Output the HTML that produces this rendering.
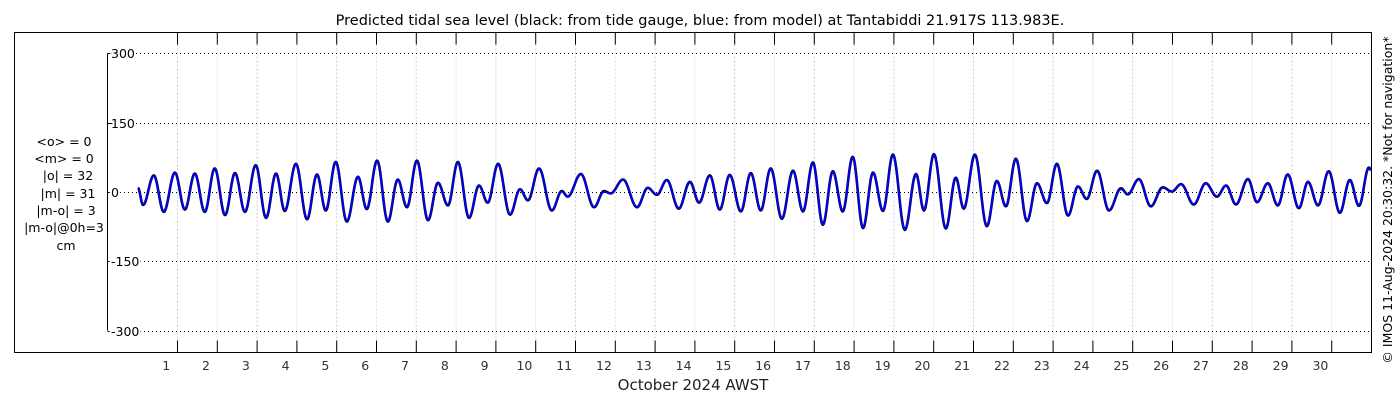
<!DOCTYPE html>
<html><head><meta charset="utf-8"><style>
body{margin:0;background:#fff;}
svg{display:block;font-family:"DejaVu Sans","Liberation Sans",sans-serif;}
</style></head><body>
<svg id="chart" width="1400" height="400" viewBox="0 0 1400 400">
<rect x="0" y="0" width="1400" height="400" fill="#fff"/>
<text x="700" y="25" text-anchor="middle" font-size="14.5" fill="#000">Predicted tidal sea level (black: from tide gauge, blue: from model) at Tantabiddi 21.917S 113.983E.</text>
<g id="grid"></g>
<g id="series"></g>
<g id="axes"></g>
<rect x="14.5" y="32.5" width="1357" height="320" fill="none" stroke="#000" stroke-width="1"/>
<g font-size="12.5" text-anchor="middle" fill="#000">
<text x="64" y="146">&lt;o&gt; = 0</text>
<text x="64" y="163">&lt;m&gt; = 0</text>
<text x="68" y="180">|o| = 32</text>
<text x="68" y="198">|m| = 31</text>
<text x="66" y="215">|m-o| = 3</text>
<text x="64" y="232">|m-o|@0h=3</text>
<text x="66" y="250">cm</text>
</g>
<text x="693" y="390" text-anchor="middle" font-size="15" fill="#222">October 2024 AWST</text>
<text transform="translate(1392,200) rotate(-90)" text-anchor="middle" font-size="12.5" fill="#000">© IMOS 11-Aug-2024 20:30:32. *Not for navigation*</text>
</svg>
<script>
const yTicks=[300,150,0,-150,-300];
const dayLabels=[1,2,3,4,5,6,7,8,9,10,11,12,13,14,15,16,17,18,19,20,21,22,23,24,25,26,27,28,29,30];
const extTimes=[0.00,0.13,0.40,0.65,0.93,1.18,1.43,1.68,1.93,2.19,2.44,2.69,2.96,3.22,3.47,3.69,3.97,4.25,4.50,4.72,4.97,5.25,5.53,5.75,6.01,6.28,6.53,6.76,7.01,7.29,7.54,7.79,8.04,8.32,8.57,8.79,9.05,9.35,9.60,9.80,10.08,10.40,10.65,10.80,11.13,11.46,11.71,11.88,12.19,12.54,12.81,13.04,13.29,13.59,13.87,14.10,14.37,14.62,14.87,15.15,15.40,15.65,15.90,16.18,16.46,16.71,16.96,17.21,17.46,17.71,17.96,18.22,18.47,18.72,18.97,19.27,19.55,19.75,20.00,20.30,20.55,20.75,21.03,21.33,21.58,21.81,22.06,22.34,22.59,22.84,23.09,23.37,23.62,23.84,24.10,24.40,24.70,24.87,25.15,25.45,25.75,25.98,26.21,26.53,26.83,27.11,27.34,27.59,27.89,28.12,28.39,28.64,28.89,29.17,29.40,29.65,29.92,30.20,30.45,30.68,30.93,31.03];
const modelValues=[8,-27,35,-42,42,-37,39,-42,50,-49,40,-42,57,-55,40,-40,60,-58,38,-39,64,-63,33,-36,67,-63,27,-32,67,-60,20,-28,64,-55,14,-22,60,-48,6,-17,51,-39,1,-10,39,-32,0,-3,27,-32,9,-5,26,-35,22,-22,35,-37,37,-41,40,-39,50,-57,45,-41,63,-70,45,-41,75,-77,42,-40,80,-81,39,-39,82,-78,31,-35,80,-73,24,-30,71,-62,19,-23,60,-50,12,-14,45,-39,6,-4,28,-30,9,1,17,-26,19,-9,14,-26,28,-21,19,-28,38,-34,22,-28,45,-44,26,-29,53,40];
const gaugeValues=[9,-28,36,-43,42,-38,40,-43,51,-50,41,-43,58,-56,40,-41,61,-59,38,-40,65,-64,33,-37,68,-64,27,-33,68,-61,20,-29,65,-56,14,-23,61,-49,6,-18,51,-40,2,-10,39,-33,2,-3,27,-33,9,-6,26,-36,22,-23,36,-38,37,-42,41,-40,51,-58,46,-42,64,-71,45,-42,76,-78,42,-41,81,-82,39,-40,82,-79,31,-36,81,-74,24,-31,72,-63,19,-24,61,-51,12,-15,46,-40,8,-5,28,-31,10,1,17,-27,19,-10,14,-27,28,-22,19,-29,38,-35,22,-29,45,-45,26,-30,53,40];

const NS='http://www.w3.org/2000/svg';
const X0=137.9, PX_DAY=39.8, XR=1371, XL=14.5, YT=32.5, YB=352.5;
const xScale=t=>X0+t*PX_DAY;
const yScale=v=>192-v*0.4617;
function mk(tag,attrs,parent){const e=document.createElementNS(NS,tag);for(const k in attrs)e.setAttribute(k,attrs[k]);parent.appendChild(e);return e;}
const grid=document.getElementById('grid'),axes=document.getElementById('axes'),series=document.getElementById('series');
// vertical day grid + ticks
for(let d=1;d<=30;d++){
  const x=Math.round(xScale(d-0.0))+0.5-0.2;
  const xx=xScale(d)-0.2;
  const gl=mk('line',{x1:xx,x2:xx,y1:YT,y2:YB,stroke:(d%2?'#c8cdf0':'#f0d8c0'),'stroke-width':1,'stroke-dasharray':'2,2'},grid);
  
  
  const t1=mk('line',{x1:xx,x2:xx,y1:YT,y2:YT+12,stroke:'#000','stroke-width':1},axes);
  
  
  const t2=mk('line',{x1:xx,x2:xx,y1:YB-12,y2:YB,stroke:'#000','stroke-width':1},axes);
  
  
}
dayLabels.forEach(d=>{
  const tx=mk('text',{x:xScale(d)-11.5,y:370,'text-anchor':'middle','font-size':12.5,fill:'#333'},axes);
  tx.textContent=d;
  
  
});
// y axis
const ya=mk('line',{x1:107.5,x2:107.5,y1:yScale(300),y2:yScale(-300),stroke:'#000','stroke-width':1},axes);


yTicks.forEach(v=>{
  const y=Math.round(yScale(v))+0.5;
  const gl=mk('line',{x1:108,x2:XR,y1:y,y2:y,stroke:'#000','stroke-width':1,'stroke-dasharray':'1,3'},grid);
  
  
  const tk=mk('line',{x1:107.5,x2:112,y1:y,y2:y,stroke:'#000','stroke-width':1},axes);
  
  
  const tx=mk('text',{x:111,y:y+4.5,'font-size':12.5,fill:'#000',stroke:'#fff','stroke-width':4,'paint-order':'stroke'},axes);
  tx.textContent=v;
  
  
});
function curve(times,vals){
  let pts=[];
  for(let i=0;i<times.length-1;i++){
    const a=vals[i],b=vals[i+1],t0=times[i],t1=times[i+1];
    const n=14;
    for(let k=0;k<n;k++){
      const f=k/n;const t=t0+(t1-t0)*f;
      const x=xScale(t);if(x>XR)break;
      const v=a+(b-a)*(1-Math.cos(Math.PI*f))/2;
      pts.push(x.toFixed(2)+','+yScale(v).toFixed(2));
    }
  }
  return 'M'+pts.join('L');
}
const g=mk('path',{d:curve(extTimes,gaugeValues),fill:'none',stroke:'#000','stroke-width':2.6,'stroke-linejoin':'round'},series);


const m=mk('path',{d:curve(extTimes,modelValues),fill:'none',stroke:'#0000ff','stroke-width':1.8,'stroke-linejoin':'round'},series);


</script>
</body></html>
